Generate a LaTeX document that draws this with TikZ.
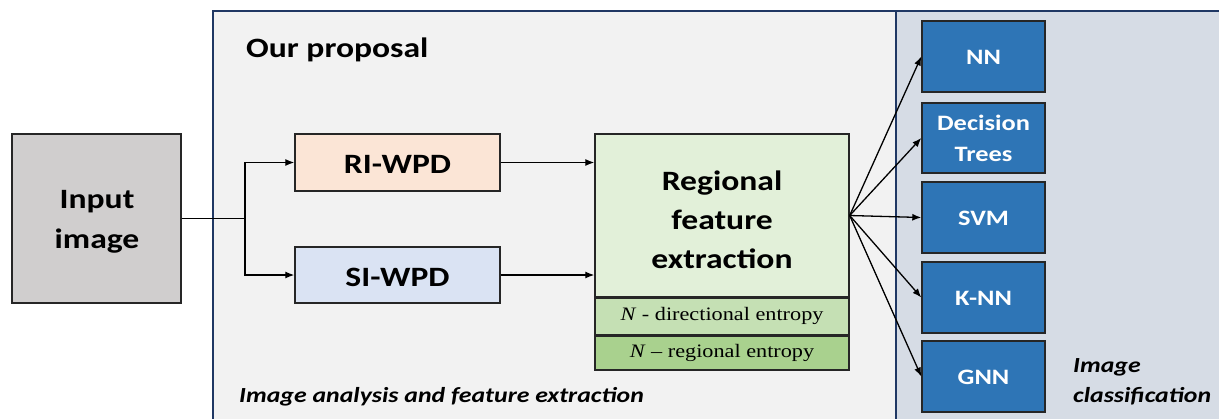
\documentclass[tikz,border=0pt]{standalone}
\usepackage{fontspec}
\setmainfont{Carlito}[FakeStretch=1.2]
\newfontfamily\tnr{Liberation Serif}[FakeStretch=1.17]
\usetikzlibrary{arrows.meta}
\definecolor{panelL}{HTML}{F2F2F2}
\definecolor{panelR}{HTML}{D6DCE5}
\definecolor{panelB}{HTML}{203864}
\definecolor{inputC}{HTML}{D0CECE}
\definecolor{riC}{HTML}{FBE5D6}
\definecolor{siC}{HTML}{DAE3F3}
\definecolor{rgA}{HTML}{E2F0D9}
\definecolor{rgB}{HTML}{C5E0B4}
\definecolor{rgC}{HTML}{A9D18E}
\definecolor{clsC}{HTML}{2E75B6}
\tikzset{
  box/.style={draw=black!85, line width=1.4pt, inner sep=0pt, align=center, font=\bfseries},
  clsbox/.style={box, fill=clsC, text=white, minimum width=123pt, minimum height=71pt, font=\fontsize{22}{31}\selectfont\bfseries},
  onel/.style={text height=16pt, text depth=0pt},
  wpd/.style={box, minimum width=205pt, text height=22pt, text depth=0pt, font=\fontsize{28}{32}\selectfont\bfseries},
  conn/.style={line width=1.3pt, draw=black},
  arr/.style={conn, -{Latex[length=9pt,width=7pt]}},
  rowbox/.style={draw=black!85, line width=1.4pt, minimum width=254pt, inner sep=0pt, font=\tnr\fontsize{19}{22}\selectfont},
  lbl/.style={inner sep=0pt, anchor=base west},
  plain/.style={inner sep=0pt, align=center}
}
\begin{document}
\begin{tikzpicture}[x=1pt,y=-1pt]
\useasboundingbox (0,0) rectangle (1219,418);
\begin{scope}
\clip (0,0) rectangle (1219,418);
\fill[white] (0,0) rectangle (1219,418);
\draw[fill=panelL, draw=panelB, line width=1.5pt] (213,11) rectangle (896,440);
\draw[fill=panelR, draw=panelB, line width=1.5pt] (896,11) rectangle (1240,440);
\end{scope}
\node[lbl, font=\fontsize{28}{30}\selectfont\bfseries] (prop) at (246,57) {Our proposal};
\node[lbl, font=\fontsize{21.5}{26}\selectfont\bfseries\itshape] (ana) at (239,402) {Image analysis and feature extraction};
\node[lbl, font=\fontsize{21.5}{30}\selectfont\bfseries\itshape, align=left] (cls) at (1073,402) {Image\\classification};

\node[box, fill=inputC, minimum width=169pt, minimum height=169pt] (in) at (96.5,218.5) {};
\node[plain, font=\fontsize{28}{40}\selectfont\bfseries] (intext) at (97,221.5) {Input\\image};
\node[wpd, fill=riC, minimum height=57pt] (ri) at (397.5,162.5) {RI-WPD};
\node[wpd, fill=siC, minimum height=56pt] (si) at (397.5,275) {SI-WPD};
\node[box, fill=rgA, minimum width=254pt, minimum height=163pt] (rg) at (722,215.5) {};
\node[plain, font=\fontsize{28}{39}\selectfont\bfseries] (rgtext) at (722,219.5) {Regional\\feature\\extraction};
\node[rowbox, fill=rgB, minimum height=36pt, anchor=north] (r1) at (rg.south) {\textit{N} - directional entropy};
\node[rowbox, fill=rgC, minimum height=34pt, anchor=north] (r2) at (r1.south) {\textit{N} – regional entropy};

\node[clsbox, onel] (nn) at (983.5,56.5) {NN};
\node[clsbox, minimum height=70pt] (dt) at (983.5,138) {Decision\\Trees};
\node[clsbox, onel] (svm) at (983.5,217.5) {SVM};
\node[clsbox, onel] (knn) at (983.5,297.5) {K-NN};
\node[clsbox, onel] (gnn) at (983.5,376.5) {GNN};

\coordinate (j) at (245,218.5);
\draw[conn] (in.east) -- (j);
\draw[arr] (j) |- (ri.west);
\draw[arr] (j) |- (si.west);
\draw[arr] (ri.east) -- (rg.west |- ri.east);
\draw[arr] (si.east) -- (rg.west |- si.east);
\coordinate (src) at (rg.east);
\foreach \t in {nn,dt,svm,knn,gnn} \draw[arr] (src) -- (\t.west);
\end{tikzpicture}
\end{document}
